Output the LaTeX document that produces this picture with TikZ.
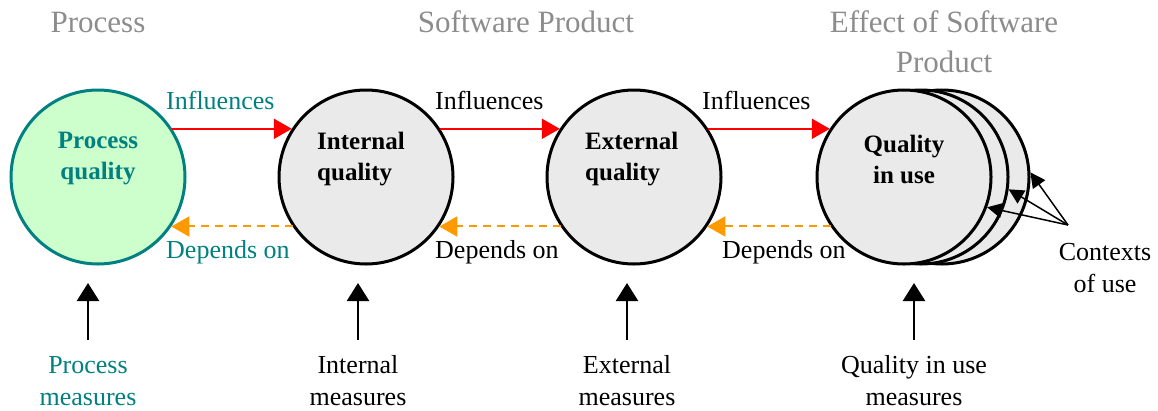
\documentclass[tikz,border=0pt]{standalone}
\usepackage{fontspec}
\setmainfont{Liberation Serif}
\usepackage{tikz}
\usetikzlibrary{arrows.meta}

\definecolor{procteal}{RGB}{0,128,128}
\definecolor{procfill}{RGB}{204,255,204}
\definecolor{qualgray}{RGB}{234,234,234}
\definecolor{headgray}{RGB}{140,140,140}
\definecolor{dependorange}{RGB}{255,153,0}

\tikzset{
  qcircle/.style={circle, draw, line width=3pt, minimum size=174pt, inner sep=0pt, fill=qualgray},
  qlabel/.style={inner sep=0pt, font=\fontsize{25}{31}\selectfont\bfseries},
  txt/.style={inner sep=0pt, font=\fontsize{26}{32}\selectfont},
  head/.style={inner sep=0pt, align=center, text=headgray, font=\fontsize{31}{40}\selectfont},
  influ/.style={line width=2pt, color=red, -{Triangle[length=18pt,width=20pt]}},
  depend/.style={line width=2pt, dashed, dash pattern=on 8pt off 6pt, color=dependorange, -{Triangle[length=18pt,width=20pt]}},
  meas/.style={line width=2.5pt, -{Triangle[length=18pt,width=22pt]}},
  ctx/.style={line width=1.5pt, -{Triangle[length=15pt,width=15pt]}}
}

\begin{document}
\begin{tikzpicture}[x=1pt, y=-1pt]
    \useasboundingbox (0,0) rectangle (1158,410);
    % headings
    \node[head] (hproc) at (98,22) {Process};
    \node[head] (hsoft) at (526,22) {Software Product};
    \node[head] (heff) at (944,42) {Effect of Software\\Product};

    % quality circles
    \node[qcircle, draw=procteal, fill=procfill] (procq) at (98,177) {};
    \node[qcircle] (intq) at (366,177) {};
    \node[qcircle] (extq) at (634,177) {};
    \node[qcircle] (useqc) at (942,177) {};
    \node[qcircle] (useqb) at (921,177) {};
    \node[qcircle] (useq) at (904,177) {};

    \node[qlabel, align=center, text=procteal] (procqt) at (98,159) {Process\\quality};
    \node[qlabel, align=left, anchor=west] (intqt) at (317,159) {Internal\\quality};
    \node[qlabel, align=left, anchor=west] (extqt) at (585,159) {External\\quality};
    \node[qlabel, align=center] (useqt) at (904,159) {Quality\\in use};

    % influences
    \draw[influ] (procq.33) -- (intq.147);
    \draw[influ] (intq.33) -- (extq.147);
    \draw[influ] (extq.33) -- (useq.147);
    \node[txt, anchor=west, text=procteal] (inf1) at (166,100) {Influences};
    \node[txt, anchor=west] (inf2) at (435,100) {Influences};
    \node[txt, anchor=west] (inf3) at (702,100) {Influences};

    % depends on
    \draw[depend] (intq.-146) -- (procq.-34);
    \draw[depend] (extq.-146) -- (intq.-34);
    \draw[depend] (useq.-146) -- (extq.-34);
    \node[txt, anchor=west, text=procteal] (dep1) at (166,252) {Depends on};
    \node[txt, anchor=west] (dep2) at (435,252) {Depends on};
    \node[txt, anchor=west] (dep3) at (722,252) {Depends on};

    % contexts of use
    \coordinate (ctxpt) at (1068,225);
    \draw[ctx] (ctxpt) -- (useq.-20);
    \draw[ctx] (ctxpt) -- (useqb.-8);
    \draw[ctx] (ctxpt) -- (useqc.3);
    \node[txt, align=center] (ctxt) at (1105,268) {Contexts\\of use};

    % measures
    \foreach \mx/\mname/\mcol/\mtext in {88/pm/procteal/{Process\\measures}, 358/im/black/{Internal\\measures}, 627/em/black/{External\\measures}, 914/um/black/{Quality in use\\measures}} {
        \coordinate (\mname a) at (\mx,340);
        \coordinate (\mname b) at (\mx,283);
        \draw[meas] (\mname a) -- (\mname b);
        \node[txt, align=center, text=\mcol] (\mname t) at (\mx,381) {\mtext};
    }
\end{tikzpicture}
\end{document}
